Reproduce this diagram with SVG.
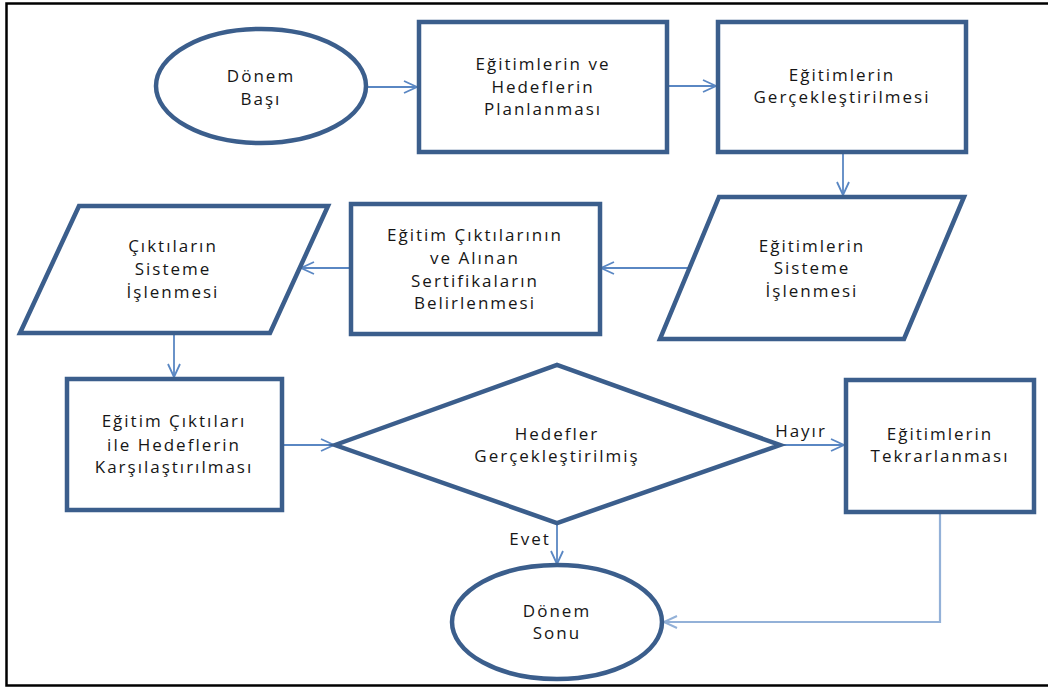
<svg xmlns="http://www.w3.org/2000/svg" width="1048" height="687" viewBox="0 0 1048 687">
  <defs>
    <style>
      .shape { fill: #ffffff; stroke: #3B5E8C; stroke-width: 4.5; stroke-linejoin: miter; }
      .label { font-family: "Open Sans", "Liberation Sans", sans-serif; font-size: 17px; font-weight: 500; letter-spacing: 2px; fill: #161616; text-anchor: middle; }
      .edge { fill: none; stroke: #5A87C3; stroke-width: 1.8; }
      .edge-light { fill: none; stroke: #93B1D8; stroke-width: 2.2; }
      .frame { fill: none; stroke: #000000; stroke-width: 2.5; }
    </style>
    <marker id="open-arrow" markerUnits="userSpaceOnUse" markerWidth="16" markerHeight="14" refX="14" refY="7" orient="auto" overflow="visible">
      <path d="M1,1 L14,7 L1,13" fill="none" stroke="#5A87C3" stroke-width="1.8"/>
    </marker>
    <marker id="open-arrow-light" markerUnits="userSpaceOnUse" markerWidth="16" markerHeight="14" refX="14" refY="7" orient="auto" overflow="visible">
      <path d="M1,1 L14,7 L1,13" fill="none" stroke="#93B1D8" stroke-width="2"/>
    </marker>
  </defs>

  <rect width="1048" height="687" fill="#ffffff"/>
  <!-- page frame (open on the right) -->
  <path class="frame" d="M1048,3.5 H6.5 V685.5 H1048"/>

  <!-- connectors -->
  <g id="connectors">
    <line class="edge" x1="368" y1="87" x2="417" y2="87" marker-end="url(#open-arrow)"/>
    <line class="edge" x1="668" y1="86" x2="716" y2="86" marker-end="url(#open-arrow)"/>
    <line class="edge" x1="843" y1="153" x2="843" y2="195" marker-end="url(#open-arrow)"/>
    <line class="edge" x1="688" y1="268" x2="601" y2="268" marker-end="url(#open-arrow)"/>
    <line class="edge" x1="349" y1="268" x2="301" y2="268" marker-end="url(#open-arrow)"/>
    <line class="edge" x1="174" y1="334" x2="174" y2="377" marker-end="url(#open-arrow)"/>
    <line class="edge" x1="283" y1="445" x2="334" y2="445" marker-end="url(#open-arrow)"/>
    <line class="edge" x1="781" y1="445" x2="844" y2="445" marker-end="url(#open-arrow)"/>
    <line class="edge" x1="557" y1="524" x2="557" y2="564" marker-end="url(#open-arrow)"/>
    <path class="edge-light" d="M940,513 V622 H664" marker-end="url(#open-arrow-light)"/>
    <text class="label" x="801" y="437">Hayır</text>
    <text class="label" x="530" y="545">Evet</text>
  </g>

  <g id="donem-basi">
    <ellipse class="shape" cx="261" cy="86" rx="105" ry="57"/>
    <text class="label" x="261" y="82">Dönem</text>
    <text class="label" x="261" y="105">Başı</text>
  </g>

  <g id="planlama">
    <rect class="shape" x="419" y="22" width="248" height="130"/>
    <text class="label" x="543" y="70">Eğitimlerin ve</text>
    <text class="label" x="543" y="93">Hedeflerin</text>
    <text class="label" x="543" y="115">Planlanması</text>
  </g>

  <g id="gerceklestirme">
    <rect class="shape" x="718" y="22" width="248" height="130"/>
    <text class="label" x="842" y="81">Eğitimlerin</text>
    <text class="label" x="842" y="103">Gerçekleştirilmesi</text>
  </g>

  <g id="sisteme-isleme">
    <polygon class="shape" points="719,197 964,197 904,339 660,339"/>
    <text class="label" x="812" y="252">Eğitimlerin</text>
    <text class="label" x="812" y="274">Sisteme</text>
    <text class="label" x="812" y="297">İşlenmesi</text>
  </g>

  <g id="sertifika-belirleme">
    <rect class="shape" x="351" y="204" width="249" height="130"/>
    <text class="label" x="475" y="241">Eğitim Çıktılarının</text>
    <text class="label" x="475" y="264">ve Alınan</text>
    <text class="label" x="475" y="287">Sertifikaların</text>
    <text class="label" x="475" y="309">Belirlenmesi</text>
  </g>

  <g id="cikti-isleme">
    <polygon class="shape" points="79,206 328,206 270,333 20,333"/>
    <text class="label" x="173" y="252">Çıktıların</text>
    <text class="label" x="173" y="275">Sisteme</text>
    <text class="label" x="173" y="298">İşlenmesi</text>
  </g>

  <g id="karsilastirma">
    <rect class="shape" x="67" y="379" width="215" height="131"/>
    <text class="label" x="174" y="427">Eğitim Çıktıları</text>
    <text class="label" x="174" y="451">ile Hedeflerin</text>
    <text class="label" x="174" y="473">Karşılaştırılması</text>
  </g>

  <g id="karar">
    <polygon class="shape" points="335,445 557,365 780,445 557,523"/>
    <text class="label" x="557" y="440">Hedefler</text>
    <text class="label" x="557" y="462">Gerçekleştirilmiş</text>
  </g>

  <g id="tekrarlama">
    <rect class="shape" x="846" y="380" width="188" height="132"/>
    <text class="label" x="940" y="440">Eğitimlerin</text>
    <text class="label" x="940" y="462">Tekrarlanması</text>
  </g>

  <g id="donem-sonu">
    <ellipse class="shape" cx="557" cy="622" rx="105" ry="57"/>
    <text class="label" x="557" y="617">Dönem</text>
    <text class="label" x="557" y="639">Sonu</text>
  </g>
</svg>
